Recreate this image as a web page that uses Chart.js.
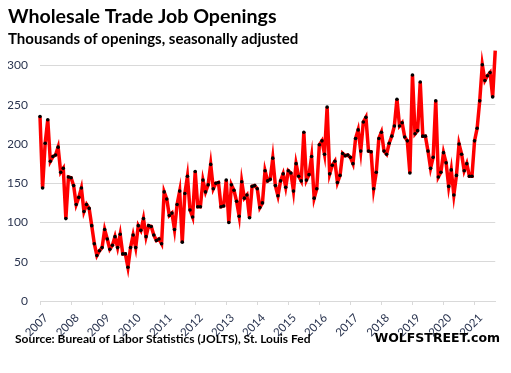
<!DOCTYPE html>
<html lang="en">
<head>
  <meta charset="UTF-8">
  <title>Wholesale Trade Job Openings</title>
  <script src="https://cdn.jsdelivr.net/npm/chart.js"></script>
  <style>
    body { margin: 0; background: #fff; }
  </style>
</head>
<body>
<canvas id="openingsChart" width="511" height="373"></canvas>

<script>
  // year labels on the x axis (one per January)
  const years = ['2007', '2008', '2009', '2010', '2011', '2012', '2013', '2014',
    '2015', '2016', '2017', '2018', '2019', '2020', '2021'];

  // monthly job openings, thousands, Jan 2007 - Sep 2021
  const openings = [
    235, 144, 201, 231, 178, 184, 186, 196, 164, 169, 105, 158, // 2007
    157, 147, 123, 132, 144, 114, 123, 118, 96, 73, 58, 64,     // 2008
    68, 91, 79, 66, 71, 82, 68, 85, 60, 60, 43, 68,             // 2009
    84, 68, 96, 90, 105, 82, 96, 95, 84, 77, 79, 73,            // 2010
    139, 130, 109, 112, 91, 123, 140, 75, 137, 159, 116, 107,   // 2011
    165, 120, 120, 154, 139, 148, 174, 143, 150, 151, 120, 121, // 2012
    154, 100, 148, 141, 127, 108, 152, 131, 135, 106, 146, 147, // 2013
    143, 119, 125, 166, 153, 155, 182, 147, 134, 153, 162, 145, // 2014
    166, 163, 140, 175, 159, 153, 215, 154, 161, 184, 131, 143, // 2015
    199, 204, 187, 247, 162, 173, 178, 151, 160, 188, 185, 186, // 2016
    183, 175, 207, 218, 191, 228, 234, 191, 190, 143, 164, 207, // 2017
    215, 191, 187, 201, 210, 223, 257, 223, 227, 209, 204, 163, // 2018
    288, 213, 217, 279, 210, 210, 191, 169, 183, 255, 158, 164, // 2019
    189, 176, 146, 167, 135, 160, 200, 187, 166, 175, 159, 159, // 2020
    204, 220, 255, 301, 281, 287, 291, 260, 319                 // 2021
  ];

  const yTicks = [0, 50, 100, 150, 200, 250, 300];

  // one category per month, e.g. "2007-1"
  const labels = openings.map((v, i) => years[Math.floor(i / 12)] + '-' + (i % 12 + 1));

  const labelColor = '#2b3550';

  // source line and site name under the chart
  const footerText = {
    id: 'footerText',
    afterDraw(chart) {
      const ctx = chart.ctx;
      ctx.save();
      ctx.fillStyle = '#000';
      ctx.textBaseline = 'alphabetic';
      ctx.textAlign = 'left';
      ctx.font = 'bold 12px Lato';
      ctx.fillText('Source: Bureau of Labor Statistics (JOLTS), St. Louis Fed', 15, 343);
      ctx.textAlign = 'right';
      ctx.font = 'bold 12.5px "DejaVu Sans"';
      ctx.fillText('WOLFSTREET.com', 500, 342);
      ctx.restore();
    }
  };

  const ctx = document.getElementById('openingsChart').getContext('2d');
  const chart = new Chart(ctx, {
    type: 'line',
    data: {
      labels: labels,
      datasets: [{
        label: 'Job openings',
        data: openings,
        borderColor: '#ff0000',
        borderWidth: 3.5,
        tension: 0,
        pointRadius: 1.8,
        pointBorderWidth: 0,
        pointBackgroundColor: '#000',
        clip: false
      }]
    },
    options: {
      responsive: false,
      animation: false,
      layout: {
        padding: { top: 1, left: 8, right: 5, bottom: 36 }
      },
      plugins: {
        legend: { display: false },
        tooltip: { enabled: false },
        title: {
          display: true,
          text: 'Wholesale Trade Job Openings',
          align: 'start',
          color: '#000',
          font: { family: 'Lato', size: 19.6, weight: 'bold' },
          padding: { top: 4, bottom: 0 }
        },
        subtitle: {
          display: true,
          text: 'Thousands of openings, seasonally adjusted',
          align: 'start',
          color: '#000',
          font: { family: 'Lato', size: 15, weight: 'bold' },
          padding: { top: 2, bottom: 17 }
        }
      },
      scales: {
        x: {
          offset: false,
          grid: {
            drawOnChartArea: false,
            tickLength: 4,
            color: (c) => (c.index % 12 === 0 ? '#d9d9d9' : 'rgba(0,0,0,0)')
          },
          border: { color: '#d9d9d9' },
          ticks: {
            autoSkip: false,
            minRotation: 45,
            maxRotation: 45,
            padding: 6,
            labelOffset: 6,
            color: labelColor,
            font: { family: 'Lato', size: 11.5 },
            callback: (v, i) => (i % 12 === 0 ? years[i / 12] : '')
          },
          afterFit: (scale) => { scale.height = 36; }
        },
        y: {
          min: 0,
          max: 300,
          grid: { color: '#d9d9d9', drawTicks: false },
          border: { display: false },
          ticks: {
            padding: 12,
            color: labelColor,
            font: { family: 'Lato', size: 12 }
          },
          afterBuildTicks: (scale) => { scale.ticks = yTicks.map(v => ({ value: v })); },
          afterFit: (scale) => { scale.width = 32; }
        }
      }
    },
    plugins: [footerText]
  });
</script>
</body>
</html>
